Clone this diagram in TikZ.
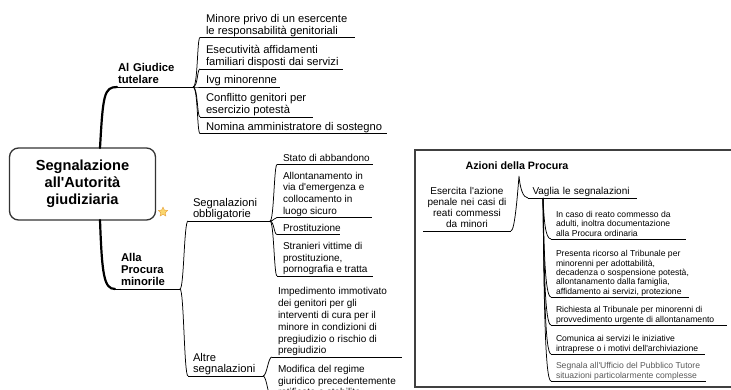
\documentclass[tikz,border=0pt]{standalone}
\usepackage{fontspec}
\setmainfont{Liberation Sans}
\usetikzlibrary{backgrounds, calc, positioning, shapes.geometric}
\definecolor{staryellow}{RGB}{250,214,110}
\definecolor{starorange}{RGB}{230,160,60}
\newcommand{\apo}{\textquotesingle}

\begin{document}
\begin{tikzpicture}[x=1pt, y=-1pt]
\tikzset{every node/.style={inner sep=1pt, outer sep=0pt}}

\tikzstyle{central}=[rectangle, rounded corners=9pt, draw=black!80, line width=1.3pt, fill=white, minimum width=146pt, minimum height=72pt, align=center, font=\fontsize{14.6}{17.2}\selectfont\bfseries]
\tikzstyle{branch}=[anchor=south west, align=left, execute at end node={\vphantom{g}}]
\tikzstyle{main topic}=[branch, font=\fontsize{11.3}{12.2}\selectfont\bfseries]
\tikzstyle{sub topic}=[branch, inner xsep=5pt, font=\fontsize{11.2}{11.6}\selectfont]
\tikzstyle{leaf}=[branch, inner xsep=6pt, font=\fontsize{11.2}{12}\selectfont]
\tikzstyle{small leaf}=[branch, inner xsep=6pt, font=\fontsize{10}{11.8}\selectfont]
\tikzstyle{proc topic}=[branch, inner xsep=4.5pt, font=\fontsize{10}{11}\selectfont]
\tikzstyle{proc leaf}=[branch, inner xsep=5pt, font=\fontsize{8.6}{9.4}\selectfont]
\tikzstyle{panel}=[rectangle, draw=black!75, line width=1.2pt, minimum width=330pt, minimum height=237pt, anchor=north west]
\tikzstyle{trunk}=[line width=2.2pt, line cap=round]
\tikzstyle{twig}=[line width=0.75pt]
\tikzstyle{uline}=[line width=0.8pt]

\useasboundingbox (0,0) rectangle (731,390);

\node[central] (signal) at (82.5,184) {Segnalazione\\all\apo Autorità\\giudiziaria};
\node[star, star points=5, star point ratio=2.1, minimum size=10pt, inner sep=0pt, fill=staryellow, draw=starorange, line width=0.4pt] (star) at (163,212) {};

% Giudice tutelare
\node[main topic, text width=74pt] (giudice) at (117,87) {Al Giudice\\tutelare};
\node[leaf] (minore) at (200,37.5) {Minore privo di un esercente\\le responsabilità genitoriali};
\node[leaf] (esecutivita) at (200,69) {Esecutività affidamenti\\familiari disposti dai servizi};
\node[leaf] (ivg) at (200,87) {Ivg minorenne};
\node[leaf] (conflitto) at (200,117) {Conflitto genitori per\\esercizio potestà};
\node[leaf] (nomina) at (200,133.5) {Nomina amministratore di sostegno};

% Procura minorile
\node[main topic, inner xsep=6pt, text width=53pt] (procura) at (115,289) {Alla\\Procura\\minorile};
\node[sub topic, text width=72pt] (obbligatorie) at (188,221) {Segnalazioni\\obbligatorie};
\node[sub topic, text width=65pt] (altre) at (188,376) {Altre\\segnalazioni};

\node[small leaf] (abbandono) at (277,164.5) {Stato di abbandono};
\node[small leaf] (allontanamento) at (277,217.5) {Allontanamento in\\via d\apo emergenza e\\collocamento in\\luogo sicuro};
\node[small leaf] (prostituzione) at (277,234.5) {Prostituzione};
\node[small leaf] (stranieri) at (277,276) {Stranieri vittime di\\prostituzione,\\pornografia e tratta};

\node[small leaf] (impedimento) at (272,357) {Impedimento immotivato\\dei genitori per gli\\interventi di cura per il\\minore in condizioni di\\pregiudizio o rischio di\\pregiudizio};
\node[small leaf] (modifica) at (272,399) {Modifica del regime\\giuridico precedentemente\\ratificato e stabilito};

% Azioni della Procura
\begin{scope}[on background layer]
    \node[panel] (procura panel) at (415,150) {};
\end{scope}

\node[font=\fontsize{10.7}{12}\selectfont\bfseries] (azioni) at (517,166) {Azioni della Procura};
\coordinate (azioni fork) at ([xshift=2pt, yshift=-5pt]azioni.south);
\node[proc topic, align=center, inner xsep=1pt, text width=86pt] (esercita) at (423,231) {Esercita l\apo azione\\penale nei casi di\\reati commessi\\da minori};
\node[proc topic, text width=100pt] (vaglia) at (528,198) {Vaglia le segnalazioni};
\coordinate (vaglia fork) at ([xshift=15pt]vaglia.south west);

\node[proc leaf] (reato) at (551,239) {In caso di reato commesso da\\adulti, inoltra documentazione\\alla Procura ordinaria};
\node[proc leaf] (ricorso) at (551,297) {Presenta ricorso al Tribunale per\\minorenni per adottabilità,\\decadenza o sospensione potestà,\\allontanamento dalla famiglia,\\affidamento ai servizi, protezione};
\node[proc leaf] (richiesta) at (551,325) {Richiesta al Tribunale per minorenni di\\provvedimento urgente di allontanamento};
\node[proc leaf] (comunica) at (551,354) {Comunica ai servizi le iniziative\\intraprese o i motivi dell\apo archiviazione};
\node[proc leaf, text=black!65] (ufficio) at (551,381) {Segnala all\apo Ufficio del Pubblico Tutore\\situazioni particolarmente complesse};

% underlines
\foreach \n in {giudice, procura, obbligatorie, altre, esercita, vaglia}
    \draw[uline] (\n.south west) -- (\n.south east);
\foreach \n/\len in {minore/155, esecutivita/143, ivg/80, conflitto/113, nomina/187, abbandono/96, allontanamento/95, prostituzione/63, stranieri/96, impedimento/130, modifica/130, reato/135, ricorso/138, richiesta/176, comunica/154, ufficio/155}
    \draw[uline] (\n.south west) -- ++(\len,0);

% main branches
\draw[trunk] ([xshift=17.5pt]signal.north) .. controls +(3,-53) and +(-13,0) .. (giudice.south west);
\draw[trunk] ([xshift=17.5pt]signal.south) .. controls +(2,55) and +(-11,0) .. (procura.south west);

% braces
\foreach \n in {minore, esecutivita, ivg, conflitto, nomina}
    \draw[twig] (giudice.south east) .. controls +(5,0) and +(-3,0) .. (\n.south west);
\foreach \n in {obbligatorie, altre}
    \draw[twig] (procura.south east) .. controls +(4,0) and +(-4,0) .. (\n.south west);
\foreach \n in {abbandono, allontanamento, prostituzione, stranieri}
    \draw[twig] (obbligatorie.south east) .. controls +(4,0) and +(-3,0) .. (\n.south west);
\foreach \n in {impedimento, modifica}
    \draw[twig] (altre.south east) .. controls +(4,0) and +(-4,0) .. (\n.south west);

\draw[twig] (esercita.south east) .. controls +(4,0) and +(-1,12) .. (azioni fork) .. controls +(1,12) and +(-5,0) .. (vaglia.south west);
\foreach \n/\k in {reato/20, ricorso/50, richiesta/70, comunica/85, ufficio/100}
    \draw[twig] (vaglia fork) .. controls +(1,\k) and +(-6,0) .. (\n.south west);

\end{tikzpicture}
\end{document}
